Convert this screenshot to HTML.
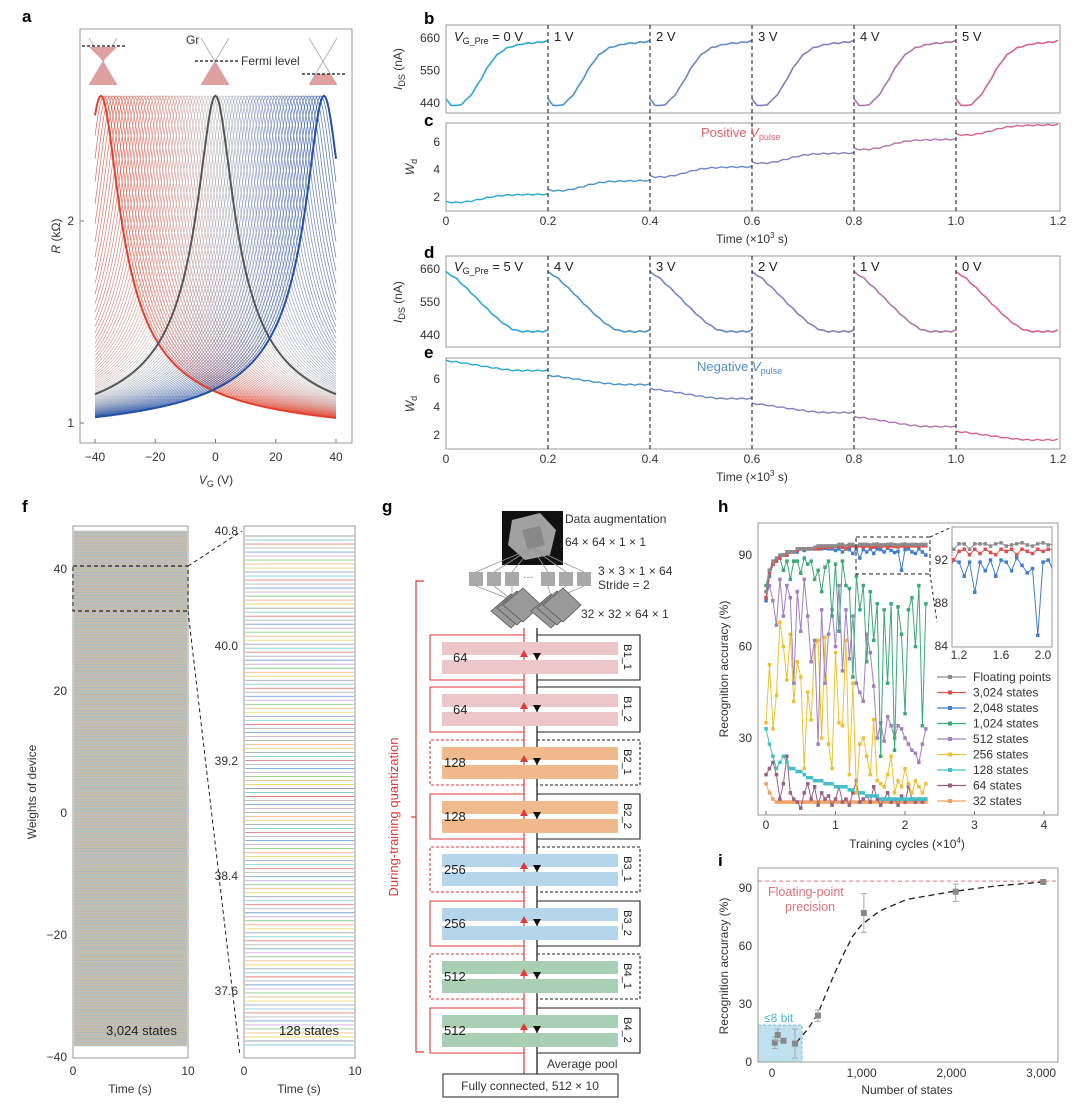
<!DOCTYPE html>
<html><head><meta charset="utf-8">
<style>
html,body{margin:0;padding:0;background:#fff;}
svg{display:block;font-family:"Liberation Sans",Arial,sans-serif;}
.t{font-size:12px;fill:#333;}
.pl{font-size:17px;font-weight:bold;fill:#000;}
.ax{fill:none;stroke:#9a9a9a;stroke-width:1;}
</style></head>
<body>
<svg id="fig" width="1080" height="1108" viewBox="0 0 1080 1108">
<text class="pl" x="22" y="22">a</text>
<text class="pl" x="424" y="24">b</text>
<text class="pl" x="424" y="126">c</text>
<text class="pl" x="424" y="258">d</text>
<text class="pl" x="424" y="358">e</text>
<text class="pl" x="22" y="512">f</text>
<text class="pl" x="382" y="512">g</text>
<text class="pl" x="718" y="512">h</text>
<text class="pl" x="718" y="866">i</text>

<g id="pa">
<rect class="ax" x="80" y="29" width="272" height="414"/>
<g id="aCurves"></g>
<g id="aTicks"></g>
<text class="t" x="60" y="236" transform="rotate(-90 60 236)" text-anchor="middle"><tspan font-style="italic">R</tspan> (kΩ)</text>
<text class="t" x="216" y="484" text-anchor="middle"><tspan font-style="italic">V</tspan><tspan font-size="9" dy="3">G</tspan><tspan dy="-3"> (V)</tspan></text>
<g>
<line x1="89" y1="38" x2="117" y2="85" stroke="#aaa" stroke-width="0.8"/><line x1="117" y1="38" x2="89" y2="85" stroke="#aaa" stroke-width="0.8"/>
<polygon points="89,47 117,47 103,61" fill="#e0a0a0"/><polygon points="103,61 89,85 117,85" fill="#e0a0a0"/>
<line x1="82" y1="46" x2="127" y2="46" stroke="#111" stroke-dasharray="3,2" stroke-width="1.2"/></g>
<g>
<line x1="201" y1="38" x2="229" y2="85" stroke="#aaa" stroke-width="0.8"/><line x1="229" y1="38" x2="201" y2="85" stroke="#aaa" stroke-width="0.8"/>
<polygon points="215,61 201,85 229,85" fill="#e0a0a0"/>
<line x1="195" y1="61" x2="238" y2="61" stroke="#111" stroke-dasharray="3,2" stroke-width="1.2"/>
<text class="t" x="186" y="44" font-size="11">Gr</text>
<text class="t" x="241" y="65" font-size="11">Fermi level</text></g>
<g>
<line x1="309" y1="38" x2="337" y2="85" stroke="#aaa" stroke-width="0.8"/><line x1="337" y1="38" x2="309" y2="85" stroke="#aaa" stroke-width="0.8"/>
<polygon points="316,74 330,74 337,85 309,85" fill="#e0a0a0"/>
<line x1="302" y1="74" x2="346" y2="74" stroke="#111" stroke-dasharray="3,2" stroke-width="1.2"/></g>
</g>

<g id="pbe">
<rect class="ax" x="446" y="25" width="614" height="88"/>
<rect class="ax" x="446" y="123" width="614" height="88"/>
<rect class="ax" x="446" y="256" width="614" height="91"/>
<rect class="ax" x="446" y="358" width="614" height="91"/>
<g id="beMarks"></g>
<g id="beTicks"></g>
<text class="t" x="402" y="69" transform="rotate(-90 402 69)" text-anchor="middle"><tspan font-style="italic">I</tspan><tspan font-size="9" dy="3">DS</tspan><tspan dy="-3"> (nA)</tspan></text>
<text class="t" x="414" y="167" transform="rotate(-90 414 167)" text-anchor="middle"><tspan font-style="italic">W</tspan><tspan font-size="9" dy="3">d</tspan></text>
<text class="t" x="402" y="302" transform="rotate(-90 402 302)" text-anchor="middle"><tspan font-style="italic">I</tspan><tspan font-size="9" dy="3">DS</tspan><tspan dy="-3"> (nA)</tspan></text>
<text class="t" x="414" y="404" transform="rotate(-90 414 404)" text-anchor="middle"><tspan font-style="italic">W</tspan><tspan font-size="9" dy="3">d</tspan></text>
<text class="t" x="752" y="243" text-anchor="middle">Time (×10<tspan font-size="8" dy="-5">3</tspan><tspan dy="5"> s)</tspan></text>
<text class="t" x="752" y="481" text-anchor="middle">Time (×10<tspan font-size="8" dy="-5">3</tspan><tspan dy="5"> s)</tspan></text>
<text x="701" y="137" font-size="13" fill="#e2606a">Positive <tspan font-style="italic">V</tspan><tspan font-size="9" dy="3">pulse</tspan></text>
<text x="697" y="371" font-size="13" fill="#4f8fca">Negative <tspan font-style="italic">V</tspan><tspan font-size="9" dy="3">pulse</tspan></text>
</g>

<g id="pf">
<rect class="ax" x="73" y="526" width="115" height="532"/>
<rect class="ax" x="244" y="526" width="111" height="532"/>
<g id="fLines"></g>
<g id="fTicks"></g>
<rect x="73" y="566" width="115" height="45" fill="none" stroke="#222" stroke-dasharray="4,3" stroke-width="1.2"/>
<line x1="188" y1="566" x2="242" y2="531" stroke="#222" stroke-dasharray="4,3"/>
<line x1="188" y1="611" x2="240" y2="1056" stroke="#222" stroke-dasharray="4,3"/>
<text x="106" y="1035" font-size="13" fill="#222">3,024 states</text>
<text x="279" y="1035" font-size="13" fill="#222">128 states</text>
<text class="t" x="36" y="792" transform="rotate(-90 36 792)" text-anchor="middle">Weights of device</text>
<text class="t" x="130" y="1093" text-anchor="middle">Time (s)</text>
<text class="t" x="299" y="1093" text-anchor="middle">Time (s)</text>
</g>

<g id="pg">
<rect x="502" y="511" width="61" height="54" fill="#111"/>
<polygon points="512,520 540,513 556,530 550,555 525,560 508,545" fill="#bbb" opacity="0.85"/>
<polygon points="522,530 540,526 545,545 528,550" fill="#888"/>
<text class="t" x="565" y="523" font-size="13">Data augmentation</text>
<text class="t" x="565" y="546" font-size="13">64 × 64 × 1 × 1</text>
<g id="gConv"></g>
<text class="t" x="598" y="575" font-size="13">3 × 3 × 1 × 64</text>
<text class="t" x="598" y="589" font-size="13">Stride = 2</text>
<text class="t" x="581" y="618" font-size="13">32 × 32 × 64 × 1</text>
<g id="gBlocks"></g>
<path d="M424 581 H416 V1052 H424 M416 817 H411" fill="none" stroke="#e03a3a" stroke-width="1.2"/>
<text x="398" y="817" font-size="13" fill="#e03a3a" transform="rotate(-90 398 817)" text-anchor="middle">During-training quantization</text>
<text class="t" x="547" y="1068" font-size="13">Average pool</text>
<rect x="443" y="1074" width="175" height="23" fill="#fff" stroke="#222"/>
<text class="t" x="530" y="1090" font-size="13" text-anchor="middle">Fully connected, 512 × 10</text>
</g>

<g id="ph">
<rect class="ax" x="758" y="523" width="300" height="292"/>
<defs><clipPath id="hclip"><rect x="758" y="523" width="300" height="292"/></clipPath>
<clipPath id="iclip"><rect x="952" y="527" width="100" height="120"/></clipPath></defs>
<g id="hMarks" clip-path="url(#hclip)"></g>
<g id="hTicks"></g>
<rect x="856" y="537" width="74" height="37" fill="none" stroke="#222" stroke-dasharray="4,3"/>
<line x1="930" y1="537" x2="952" y2="527" stroke="#222" stroke-dasharray="3,3"/>
<line x1="930" y1="574" x2="937" y2="622" stroke="#222" stroke-dasharray="3,3"/>
<rect x="952" y="527" width="100" height="120" fill="#fff" stroke="#9a9a9a"/>
<g id="insetMarks" clip-path="url(#iclip)"></g>
<g id="insetTicks"></g>
<g id="hLegend"></g>
<text class="t" x="728" y="669" transform="rotate(-90 728 669)" text-anchor="middle">Recognition accuracy (%)</text>
<text class="t" x="907" y="848" text-anchor="middle">Training cycles (×10<tspan font-size="8" dy="-5">4</tspan><tspan dy="5">)</tspan></text>
</g>

<g id="pi">
<rect x="758" y="1025" width="44" height="37" fill="#bfe0ef" stroke="#7cc0e0" stroke-dasharray="3,2"/>
<text x="764" y="1022" font-size="12" fill="#4db3dc">≤8 bit</text>
<rect class="ax" x="758" y="868" width="300" height="194"/>
<g id="iMarks"></g>
<g id="iTicks"></g>
<text x="768" y="896" font-size="12.5" fill="#e2707a">Floating-point</text>
<text x="785" y="911" font-size="12.5" fill="#e2707a">precision</text>
<text class="t" x="728" y="966" transform="rotate(-90 728 966)" text-anchor="middle">Recognition accuracy (%)</text>
<text class="t" x="907" y="1094" text-anchor="middle">Number of states</text>
</g>
</svg>

<script>
const NS='http://www.w3.org/2000/svg';
function mk(tag, attrs, parent, txt){const e=document.createElementNS(NS,tag);for(const k in attrs)e.setAttribute(k,attrs[k]);if(txt!==undefined)e.textContent=txt;parent.appendChild(e);return e;}
function $(id){return document.getElementById(id);}

/* ---------- Panel a data ---------- */
const aDirac=[-38,-37,-36,-35,-34,-33,-32,-31,-30,-29,-28,-27,-26,-25,-24,-23,-22,-21,-20,-19,-18,-17,-16,-15,-14,-13,-12,-11,-10,-9,-8,-7,-6,-5,-4,-3,-2,-1,0,1,2,3,4,5,6,7,8,9,10,11,12,13,14,15,16,17,18,19,20,21,22,23,24,25,26,27,28,29,30,31,32,33,34,35,36];
const aPeakR=2.62, aBaseR=0.9, aWidth=5.7;
const aXTicks=[-40,-20,0,20,40];
const aYTicks=[1,2];
const ax=v=>215.5+v*3.0125;
const ay=r=>423-(r-1)*202;
function aColor(d){
  const t=(d+38)/74;
  const red=[226,64,44], mid=[200,196,196], blue=[36,80,165];
  let c;
  if(t<0.5){const u=t/0.5;c=red.map((v,i)=>v+(mid[i]-v)*u);}else{const u=(t-0.5)/0.5;c=mid.map((v,i)=>v+(blue[i]-v)*u);}
  return 'rgb('+c.map(Math.round).join(',')+')';
}
function aPath(d){
  let s='';
  for(let v=-40;v<=40.01;v+=0.5){const r=aBaseR+(aPeakR-aBaseR)/Math.sqrt(1+Math.pow((v-d)/aWidth,2));s+=(s?'L':'M')+ax(v).toFixed(1)+' '+ay(r).toFixed(1);}
  return s;
}
aDirac.forEach(d=>{
  const thick=(d===-38||d===0||d===36);
  const p=mk('path',{d:aPath(d),fill:'none',stroke:thick?(d===0?'#555':aColor(d)):aColor(d),'stroke-width':thick?2:0.7,opacity:thick?1:0.85},$('aCurves'));
  
  
});
[...$('aCurves').children].filter(p=>p.getAttribute('stroke-width')==='2').forEach(p=>$('aCurves').appendChild(p));
aXTicks.forEach(v=>{
  const l=mk('line',{x1:ax(v),x2:ax(v),y1:443,y2:439,stroke:'#777'},$('aTicks'));
  
  
  const t=mk('text',{x:ax(v),y:461,'text-anchor':'middle',class:'t'},$('aTicks'),v<0?'−'+(-v):String(v));
  
  
});
aYTicks.forEach(v=>{
  const l=mk('line',{x1:80,x2:84,y1:ay(v),y2:ay(v),stroke:'#777'},$('aTicks'));
  
  
  const t=mk('text',{x:74,y:ay(v)+4,'text-anchor':'end',class:'t'},$('aTicks'),String(v));
  
  
});

/* ---------- Panels b-e data ---------- */
const segColors=['#2aa8da','#4a94cc','#6c88c6','#8a7cbe','#b274ad','#d8648c'];
const bLabels=['0 V','1 V','2 V','3 V','4 V','5 V'];
const dLabels=['5 V','4 V','3 V','2 V','1 V','0 V'];
const bShape=[452,434,430,436,450,470,496,526,556,582,602,616,626,632,636,640,642,643,645,647,650];
const cStart=[1.6,2.45,3.45,4.45,5.45,6.5];
const cEnd=[2.2,3.2,4.2,5.2,6.2,7.25];
const dShape=[650,640,628,612,596,580,562,545,528,512,496,482,470,460,454,452,452,451,452,452,455];
const eStart=[7.3,6.25,5.3,4.25,3.3,2.25];
const eEnd=[6.6,5.6,4.6,3.6,2.6,1.65];
const timeTicks=[0,0.2,0.4,0.6,0.8,1.0,1.2];
const tx=t=>446+t*510;
const yb=v=>38+(660-v)*(65/220);
const yc=v=>197-(v-2)*13.75;
const yd=v=>269+(660-v)*(66/220);
const ye=v=>435-(v-2)*14;
function seg(k,vals,yf,w){
  let s='';
  vals.forEach((v,i)=>{const t=k*0.2+i*0.01;const j=(i%2?0.6:-0.6);s+=(s?'L':'M')+tx(t).toFixed(1)+' '+(yf(v)+j).toFixed(1);});
  const p=mk('path',{d:s,fill:'none',stroke:segColors[k],'stroke-width':w},$('beMarks'));
  
  
}
const bMin=Math.min(...bShape), bMax=Math.max(...bShape);
const dMin=Math.min(...dShape), dMax=Math.max(...dShape);
for(let k=0;k<6;k++){
  seg(k,bShape,yb,1.6);
  seg(k,bShape.map(v=>cStart[k]+(v-bMin)/(bMax-bMin)*(cEnd[k]-cStart[k])),yc,1.4);
  seg(k,dShape,yd,1.6);
  seg(k,dShape.map(v=>eEnd[k]+(v-dMin)/(dMax-dMin)*(eStart[k]-eEnd[k])),ye,1.4);
}
timeTicks.forEach((t,i)=>{
  if(i>0&&i<6){
    [[25,211],[256,449]].forEach(r=>{
      const l=mk('line',{x1:tx(t),x2:tx(t),y1:r[0],y2:r[1],stroke:'#222','stroke-dasharray':'4,3','stroke-width':1.1},$('beTicks'));
      
      
    });
  }
  [225,463].forEach(y=>{
    const lab=mk('text',{x:tx(t),y:y,'text-anchor':'middle',class:'t'},$('beTicks'),t===0?'0':t.toFixed(1));
    
    
  });
});
[[660,yb],[550,yb],[440,yb],[660,yd],[550,yd],[440,yd]].forEach(a=>{
  const lab=mk('text',{x:440,y:a[1](a[0])+4,'text-anchor':'end',class:'t'},$('beTicks'),String(a[0]));
  
  
});
[[6,yc],[4,yc],[2,yc],[6,ye],[4,ye],[2,ye]].forEach(a=>{
  const lab=mk('text',{x:440,y:a[1](a[0])+4,'text-anchor':'end',class:'t'},$('beTicks'),String(a[0]));
  
  
});
function segLabels(labels,y){
  labels.forEach((s,k)=>{
    const x=tx(k*0.2)+(k===0?8:6);
    const t=mk('text',{x:x,y:y,'font-size':13,fill:'#222'},$('beTicks'));
    
    
    if(k===0){
      mk('tspan',{'font-style':'italic'},t,'V');
      mk('tspan',{'font-size':9,dy:3},t,'G_Pre');
      mk('tspan',{dy:-3},t,' = '+s);
    } else t.textContent=s;
  });
}
segLabels(bLabels,41); segLabels(dLabels,271);

/* ---------- Panel f data ---------- */
const fStateCountLeft=3024;
const fStateCountRight=128;
const fPalette=['#9aa6b8','#e08080','#7aa2d8','#8fcc8f','#eed870','#80d0dc','#b8b8b8','#cbb0dc','#f4bc8a'];
const fYTicksLeft=[40,20,0,-20,-40];
const fYTicksRight=[40.8,40.0,39.2,38.4,37.6];
const fyL=v=>813-v*6.1;
const fyR=v=>646-(v-40)*143.75;
for(let i=0;i<fStateCountLeft;i++){
  const y=531+i*(1046-531)/(fStateCountLeft-1);
  const l=mk('line',{x1:74,x2:187,y1:y.toFixed(2),y2:y.toFixed(2),stroke:fPalette[(i*7)%fPalette.length],'stroke-width':0.4,opacity:0.75},$('fLines'));
  
  
}
for(let i=0;i<fStateCountRight;i++){
  const y=536+i*(1045-536)/(fStateCountRight-1);
  const l=mk('line',{x1:245,x2:354,y1:y.toFixed(2),y2:y.toFixed(2),stroke:fPalette[(i*5)%fPalette.length],'stroke-width':0.9},$('fLines'));
  
  
}
fYTicksLeft.forEach(v=>{
  const t=mk('text',{x:67,y:fyL(v)+4,'text-anchor':'end',class:'t'},$('fTicks'),v<0?'−'+(-v):String(v));
  
  
});
fYTicksRight.forEach(v=>{
  const t=mk('text',{x:238,y:fyR(v)+4,'text-anchor':'end',class:'t'},$('fTicks'),v.toFixed(1));
  
  
});
[[73,'0'],[188,'10'],[244,'0'],[355,'10']].forEach(a=>{
  const t=mk('text',{x:a[0],y:1075,'text-anchor':'middle',class:'t'},$('fTicks'),a[1]);
  
  
});

/* ---------- Panel g ---------- */
const gConv=$('gConv');
const sqX=[469,487,505,541,559,577];
sqX.forEach(x=>{
  const r=mk('rect',{x:x,y:572,width:14,height:14,fill:'#a9a9a9'},gConv);
  
  
  const l1=mk('line',{x1:532,y1:548,x2:x+7,y2:572,stroke:'#999','stroke-width':0.8},gConv);
  
  
  const l2=mk('line',{x1:x+7,y1:586,x2:x<530?512:552,y2:600,stroke:'#999','stroke-width':0.8},gConv);
  
  
});
const dots=mk('text',{x:523,y:580,'font-size':10,fill:'#555'},gConv,'···');


[[491,0],[494,-3],[497,-6],[531,0],[534,-3],[537,-6]].forEach(a=>{
  const x=a[0]+a[1]*-1, y=611+a[1];
  const pg=mk('polygon',{points:`${x},${y} ${x+20},${y-17} ${x+38},${y} ${x+20},${y+17}`,fill:'#999',stroke:'#555','stroke-width':0.8},gConv);
  
  
});
const gB=$('gBlocks');
const blockTops=[635,687,740,794,847,901,954,1008];
const blockChannels=['64','64','128','128','256','256','512','512'];
const blockNames=['B1_1','B1_2','B2_1','B2_2','B3_1','B3_2','B4_1','B4_2'];
const blockColors=['#edc6c9','#edc6c9','#f1ba8c','#f1ba8c','#b5d5eb','#b5d5eb','#a9cfb4','#a9cfb4'];
const blockDashed=[false,false,true,false,true,false,true,false];
const rl=mk('line',{x1:524,y1:628,x2:524,y2:1074,stroke:'#e03a3a','stroke-width':1.2},gB);


const bl=mk('line',{x1:537,y1:628,x2:537,y2:1074,stroke:'#111','stroke-width':1.2},gB);


blockTops.forEach((y,i)=>{
  const da=blockDashed[i]?'3,2':'none';
  const b1=mk('rect',{x:442,y:y+7,width:176,height:13,fill:blockColors[i]},gB);
  
  
  const b2=mk('rect',{x:442,y:y+25,width:176,height:14,fill:blockColors[i]},gB);
  
  
  const rp=mk('path',{d:`M524 ${y} H430 V${y+45} H524`,fill:'none',stroke:'#e03a3a','stroke-width':1.1,'stroke-dasharray':da},gB);
  
  
  const bp=mk('path',{d:`M537 ${y} H640 V${y+45} H537`,fill:'none',stroke:'#222','stroke-width':1.1,'stroke-dasharray':da},gB);
  
  
  const ch=mk('text',{x:blockChannels[i].length>2?444:453,y:y+27,'font-size':13,fill:'#222'},gB,blockChannels[i]);
  
  
  const nm=mk('text',{x:624,y:y+22,'font-size':11,fill:'#222',transform:`rotate(90 624 ${y+22})`,'text-anchor':'middle'},gB,blockNames[i]);
  
  
  const ar=mk('polygon',{points:`520,${y+22} 528,${y+22} 524,${y+15}`,fill:'#e03a3a'},gB);
  
  
  const ad=mk('polygon',{points:`533,${y+18} 541,${y+18} 537,${y+25}`,fill:'#111'},gB);
  
  
});

/* ---------- Panel h data ---------- */
const hX=[0,0.05,0.1,0.15,0.2,0.25,0.3,0.35,0.4,0.45,0.5,0.55,0.6,0.65,0.7,0.75,0.8,0.85,0.9,0.95,1.0,1.05,1.1,1.15,1.2,1.25,1.3,1.35,1.4,1.45,1.5,1.55,1.6,1.65,1.7,1.75,1.8,1.85,1.9,1.95,2.0,2.05,2.1,2.15,2.2,2.25,2.3];
const hFloat=[78,85,88,89,90,90,91,91,91,92,92,92,92,92,92.5,93,93,93,93,93,93,93.5,93.5,93,93.5,93.5,93,93.5,93.5,93.5,93.3,93.5,93.6,93.3,93.4,93.5,93.6,93.4,93.3,93.5,93.6,93.4,93.5,93.5,93.4,93.5,93.5];
const h3024=[76,84,87,88,89,90,90,91,91,91.5,92,92,92,92,92,92,92.5,92.5,92.5,92.5,92.8,93,92.5,92,92.8,93,92.5,93,92.6,93,92.7,92.5,93,92.8,93,92.5,93,92.8,92.6,93,92.8,93,93,93,93,93,93];
const h2048=[75,83,87,88,89,90,90,91,91,91,92,91.5,92,92,92,92,92,92.2,92,92,91.5,92,91,92,91.8,90.5,91.8,89,91.8,91,92,90.5,92,91.8,91,92.2,91.5,90.8,91.2,85,91.8,92,91,90.5,92,91,90];
const h1024=[80,85,87,88,89,85,88,82,88,88,84,89,87,88,82,85,78,86,88,70,87,65,88,80,79,50,83,72,80,55,78,62,74,24,72,48,74,26,73,64,38,72,76,60,80,34,74];
const h512=[76,80,75,67,82,70,80,76,48,78,65,82,70,55,62,28,72,48,64,72,60,80,52,72,56,70,48,45,42,64,58,47,30,35,29,37,34,30,34,33,30,28,26,25,22,28,33];
const h256=[35,54,33,44,68,60,49,64,42,55,50,20,45,36,60,62,30,63,28,20,58,35,34,62,18,48,12,28,30,24,18,36,16,15,14,18,24,12,16,14,20,15,12,16,14,12,15];
const h128=[33,28,24,20,22,24,22,20,20,19,19,18,17,17,16,16,16,15,15,15,14,14,14,14,13,13,12,12,12,11,11,11,11,10,10,10,10,10,10,10,10,10,10,10,10,10,10];
const h64=[18,20,22,18,10,15,24,12,10,9,7,12,15,10,14,8,12,10,11,8,10,14,9,10,8,12,16,9,10,11,9,14,10,8,10,12,9,10,8,11,9,14,10,9,10,9,10];
const h32=[15,12,10,9,9,9,9,9,9,9,9,9,9,9,9,9,9,9,9,9,9,9,9,9,9,9,9,9,9,9,9,9,9,9,9,9,9,9,9,9,9,9,9,9,9,9,9];
const hSeriesNames=['Floating points','3,024 states','2,048 states','1,024 states','512 states','256 states','128 states','64 states','32 states'];
const hSeriesColors=['#8c8c8c','#e0504c','#3f7fcf','#3aaa78','#a080c0','#f0c030','#40c0c8','#9a6080','#f0a060'];
const hSeries=[hFloat,h3024,h2048,h1024,h512,h256,h128,h64,h32];
const hXTicks=[0,1,2,3,4];
const hYTicks=[30,60,90];
const hx=t=>766+t*69.5;
const hy=v=>555-(v-90)*3.05;
function drawSeries(parent,xs,ys,xf,yf,color,ms){
  let d='';
  xs.forEach((x,i)=>{d+=(d?'L':'M')+xf(x).toFixed(1)+' '+yf(ys[i]).toFixed(1);});
  const p=mk('path',{d:d,fill:'none',stroke:color,'stroke-width':1},parent);
  
  
  xs.forEach((x,i)=>{
    const r=mk('rect',{x:(xf(x)-ms/2).toFixed(1),y:(yf(ys[i])-ms/2).toFixed(1),width:ms,height:ms,fill:color},parent);
    
    
  });
}
for(let s=hSeries.length-1;s>=0;s--) drawSeries($('hMarks'),hX,hSeries[s],hx,hy,hSeriesColors[s],3.5);
hXTicks.forEach(v=>{
  const t=mk('text',{x:hx(v),y:829,'text-anchor':'middle',class:'t'},$('hTicks'),String(v));
  
  
  const l=mk('line',{x1:hx(v),x2:hx(v),y1:815,y2:811,stroke:'#777'},$('hTicks'));
  
  
});
hYTicks.forEach(v=>{
  const t=mk('text',{x:752,y:hy(v)+4,'text-anchor':'end',class:'t'},$('hTicks'),String(v));
  
  
});
const inX=t=>959+(t-1.2)*105;
const inY=v=>560-(v-92)*10.75;
const insetXTicks=[1.2,1.6,2.0];
const insetYTicks=[84,88,92];
[2,1,0].forEach(s=>drawSeries($('insetMarks'),hX,hSeries[s],inX,inY,hSeriesColors[s],3.5));
insetXTicks.forEach(v=>{
  const t=mk('text',{x:inX(v),y:659,'text-anchor':'middle',class:'t','font-size':11},$('insetTicks'),v.toFixed(1));
  
  
});
insetYTicks.forEach(v=>{
  const t=mk('text',{x:948,y:inY(v)+4,'text-anchor':'end',class:'t','font-size':11},$('insetTicks'),String(v));
  
  
});
hSeriesNames.forEach((n,i)=>{
  const y=677+i*15.5;
  const l=mk('line',{x1:937,x2:966,y1:y,y2:y,stroke:hSeriesColors[i],'stroke-width':1.2},$('hLegend'));
  
  
  const r=mk('rect',{x:948,y:y-2,width:4,height:4,fill:hSeriesColors[i]},$('hLegend'));
  
  
  const t=mk('text',{x:973,y:y+4,class:'t'},$('hLegend'),n);
  
  
});

/* ---------- Panel i data ---------- */
const iStates=[32,64,128,256,512,1024,2048,3024];
const iAcc=[10,14,11,9.5,24,77,88,93];
const iErrLo=[7,11,10,2,21,67,83,92.5];
const iErrHi=[13,17,12,17,27,87,92,93.5];
const fitS=[270,400,512,600,700,800,900,1000,1200,1500,2000,2500,3024];
const fitV=[10,17,25,35,46,56,65,71,78,84,88,91,93];
const floatingPrecision=93.5;
const iXTicks=[0,1000,2000,3000];
const iYTicks=[0,30,60,90];
const ix=s=>772+s*0.0897;
const iy=v=>1062-v*1.935;
const fp=mk('line',{x1:758,x2:1058,y1:iy(floatingPrecision),y2:iy(floatingPrecision),stroke:'#e2707a','stroke-dasharray':'4,3'},$('iMarks'));


let fd='';
fitS.forEach((s,i)=>{fd+=(fd?'L':'M')+ix(s).toFixed(1)+' '+iy(fitV[i]).toFixed(1);});
const fit=mk('path',{d:fd,fill:'none',stroke:'#222','stroke-dasharray':'6,4','stroke-width':1.3},$('iMarks'));


iStates.forEach((s,i)=>{
  const e=mk('path',{d:`M${ix(s)} ${iy(iErrLo[i])} V${iy(iErrHi[i])} M${ix(s)-3} ${iy(iErrLo[i])} h6 M${ix(s)-3} ${iy(iErrHi[i])} h6`,stroke:'#aaa','stroke-width':1,fill:'none'},$('iMarks'));
  
  
  const r=mk('rect',{x:ix(s)-3,y:iy(iAcc[i])-3,width:6,height:6,fill:'#888'},$('iMarks'));
  
  
});
iXTicks.forEach(v=>{
  const t=mk('text',{x:ix(v),y:1077,'text-anchor':'middle',class:'t'},$('iTicks'),v.toLocaleString('en-US'));
  
  
});
iYTicks.forEach(v=>{
  const t=mk('text',{x:752,y:iy(v)+4,'text-anchor':'end',class:'t'},$('iTicks'),String(v));
  
  
});
</script>
</body></html>
